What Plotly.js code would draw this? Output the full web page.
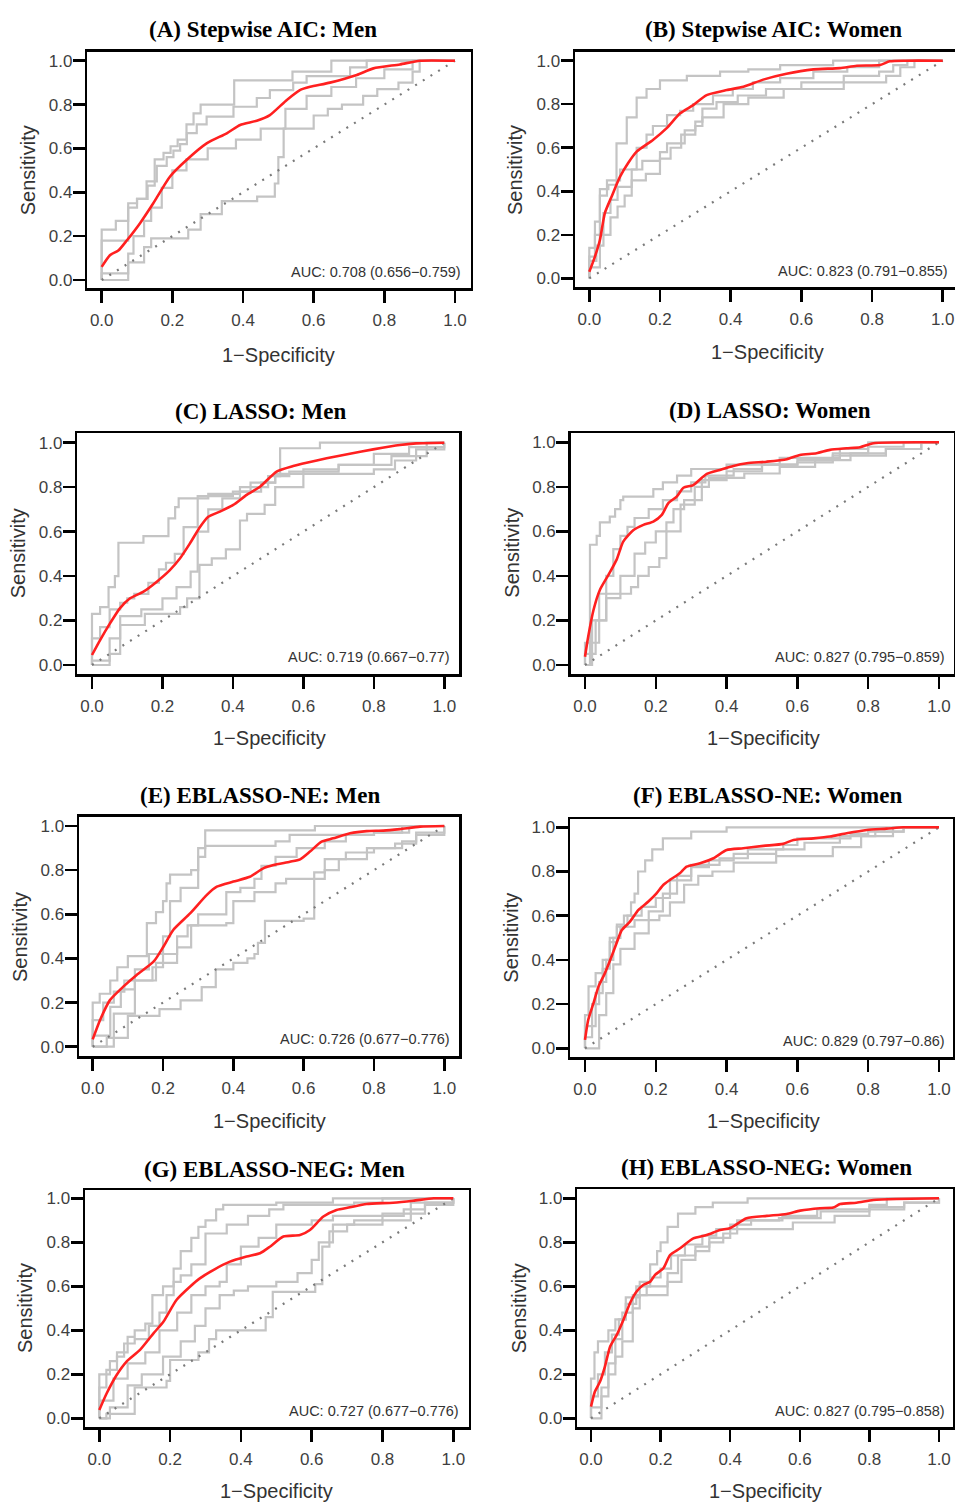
<!DOCTYPE html>
<html><head><meta charset="utf-8">
<script src="https://cdn.plot.ly/plotly-3.0.1.min.js"></script>
<style>html,body{margin:0;padding:0;background:#fff;}#chart{width:955px;height:1503px;}</style>
</head><body><div id="chart"></div>
<script>
// ---------- DATA ----------
const panelTitles = ["(A) Stepwise AIC: Men","(B) Stepwise AIC: Women","(C) LASSO: Men","(D) LASSO: Women",
  "(E) EBLASSO-NE: Men","(F) EBLASSO-NE: Women","(G) EBLASSO-NEG: Men","(H) EBLASSO-NEG: Women"];
const aucLabels = ["AUC: 0.708 (0.656\u22120.759)","AUC: 0.823 (0.791\u22120.855)","AUC: 0.719 (0.667\u22120.77)","AUC: 0.827 (0.795\u22120.859)",
  "AUC: 0.726 (0.677\u22120.776)","AUC: 0.829 (0.797\u22120.86)","AUC: 0.727 (0.677\u22120.776)","AUC: 0.827 (0.795\u22120.858)"];
const tickVals = [0,0.2,0.4,0.6,0.8,1.0];
const tickLabels = ["0.0","0.2","0.4","0.6","0.8","1.0"];
const xTitle = "1\u2212Specificity";
const yTitle = "Sensitivity";

// Panel A
const A_red_fpr = [0,0.024,0.047,0.071,0.108,0.146,0.193,0.24,0.297,0.354,0.392,0.439,0.476,0.524,0.561,0.59,0.646,0.722,0.769,0.844,0.901,1];
const A_red_tpr = [0.06,0.114,0.134,0.18,0.258,0.35,0.471,0.547,0.623,0.669,0.707,0.726,0.752,0.821,0.866,0.881,0.9,0.935,0.965,0.983,1,1];
const A_folds_fpr = [
 [0,0,0.04,0.075,0.1,0.13,0.15,0.175,0.195,0.215,0.24,0.26,0.28,0.375,0.54,0.65,1],
 [0,0,0.075,0.1,0.127,0.156,0.184,0.203,0.222,0.241,0.269,0.297,0.373,0.439,0.476,0.542,0.58,0.703,0.75,1],
 [0,0,0.075,0.09,0.12,0.14,0.17,0.2,0.24,0.3,0.38,0.45,0.52,0.58,0.65,0.72,0.8,0.88,1],
 [0,0.075,0.12,0.14,0.245,0.28,0.34,0.44,0.49,0.5,0.515,0.6,0.64,0.68,0.74,0.78,0.84,0.88,0.9,1]];
const A_folds_tpr = [
 [0,0.23,0.27,0.35,0.37,0.43,0.55,0.58,0.61,0.64,0.71,0.76,0.8,0.91,0.95,1,1],
 [0,0.18,0.33,0.37,0.45,0.52,0.56,0.59,0.62,0.67,0.71,0.745,0.79,0.83,0.866,0.9,0.93,0.97,1,1],
 [0,0.03,0.12,0.2,0.27,0.33,0.42,0.5,0.55,0.6,0.64,0.69,0.78,0.84,0.88,0.92,0.96,1,1],
 [0,0.08,0.15,0.19,0.23,0.3,0.36,0.38,0.44,0.56,0.69,0.75,0.78,0.8,0.84,0.87,0.9,0.95,1,1]];

// Panel B
const B_red_fpr = [0,0.016,0.03,0.044,0.063,0.087,0.11,0.134,0.153,0.18,0.219,0.257,0.294,0.332,0.389,0.436,0.492,0.558,0.634,0.709,0.757,0.823,0.85,0.898,1];
const B_red_tpr = [0.03,0.1,0.176,0.3,0.375,0.467,0.53,0.582,0.605,0.636,0.69,0.758,0.796,0.842,0.865,0.88,0.913,0.94,0.96,0.966,0.977,0.98,0.997,1,1];
const B_folds_fpr = [
 [0,0,0.016,0.03,0.054,0.077,0.106,0.134,0.162,0.2,0.276,0.37,0.45,0.54,0.69,1],
 [0,0,0.016,0.03,0.05,0.087,0.134,0.162,0.18,0.22,0.257,0.294,0.35,0.406,0.463,0.54,0.634,0.73,0.82,1],
 [0,0,0.02,0.04,0.06,0.08,0.12,0.15,0.2,0.22,0.27,0.3,0.32,0.36,0.42,0.5,0.6,0.72,0.82,0.86,0.9,1],
 [0,0,0.03,0.06,0.08,0.1,0.12,0.16,0.2,0.23,0.26,0.3,0.32,0.38,0.45,0.55,0.72,0.84,0.88,0.92,1]];
const B_folds_tpr = [
 [0,0.14,0.26,0.41,0.43,0.62,0.74,0.83,0.87,0.91,0.93,0.95,0.96,0.98,1,1],
 [0,0.1,0.2,0.38,0.45,0.5,0.6,0.66,0.7,0.75,0.77,0.8,0.84,0.87,0.9,0.92,0.95,0.97,1,1],
 [0,0.08,0.15,0.3,0.36,0.42,0.5,0.54,0.58,0.62,0.68,0.72,0.78,0.81,0.84,0.87,0.9,0.93,0.95,0.98,1,1],
 [0,0.05,0.2,0.28,0.33,0.38,0.45,0.48,0.55,0.6,0.66,0.7,0.74,0.8,0.83,0.87,0.9,0.93,0.97,1,1]];

// Panel C
const C_red_fpr = [0,0.023,0.051,0.079,0.108,0.146,0.184,0.221,0.25,0.278,0.307,0.33,0.363,0.401,0.439,0.477,0.524,0.571,0.609,0.666,0.732,0.798,0.874,0.92,1];
const C_red_tpr = [0.045,0.112,0.187,0.255,0.3,0.33,0.375,0.427,0.48,0.547,0.622,0.667,0.69,0.72,0.765,0.802,0.87,0.895,0.91,0.93,0.95,0.97,0.99,0.997,1];
const C_folds_fpr = [
 [0,0,0.023,0.047,0.065,0.075,0.146,0.217,0.236,0.246,0.33,0.42,0.5,0.534,0.647,1],
 [0,0,0.023,0.05,0.08,0.1,0.12,0.16,0.19,0.21,0.235,0.26,0.3,0.4,0.45,0.52,0.6,0.7,0.85,0.95,1],
 [0,0,0.05,0.08,0.14,0.2,0.24,0.28,0.3,0.33,0.37,0.42,0.48,0.52,0.56,0.7,0.8,0.9,1],
 [0,0.05,0.08,0.15,0.25,0.27,0.305,0.34,0.38,0.42,0.44,0.49,0.52,0.6,0.72,0.8,0.86,0.92,1]];
const C_folds_tpr = [
 [0,0.23,0.26,0.35,0.4,0.55,0.58,0.66,0.71,0.75,0.77,0.8,0.85,0.975,1,1],
 [0,0.12,0.17,0.25,0.28,0.3,0.32,0.37,0.43,0.46,0.5,0.62,0.76,0.78,0.82,0.86,0.88,0.9,0.94,1,1],
 [0,0.02,0.12,0.22,0.25,0.3,0.35,0.42,0.6,0.7,0.75,0.78,0.82,0.85,0.87,0.9,0.95,0.98,1],
 [0,0.05,0.18,0.23,0.26,0.3,0.45,0.48,0.52,0.65,0.68,0.72,0.8,0.86,0.86,0.88,0.92,0.97,1]];

// Panel D
const D_red_fpr = [0,0.009,0.024,0.042,0.066,0.089,0.108,0.137,0.165,0.193,0.217,0.235,0.259,0.278,0.306,0.344,0.381,0.419,0.457,0.513,0.57,0.607,0.654,0.692,0.739,0.777,0.815,1];
const D_red_tpr = [0.037,0.127,0.247,0.337,0.404,0.472,0.554,0.606,0.629,0.644,0.674,0.726,0.756,0.796,0.808,0.858,0.876,0.894,0.906,0.913,0.924,0.943,0.951,0.966,0.973,0.978,0.996,1];
const D_folds_fpr = [
 [0,0.014,0.014,0.033,0.042,0.07,0.085,0.1,0.108,0.193,0.22,0.26,0.3,0.4,0.55,0.72,0.8,1],
 [0,0,0.02,0.04,0.06,0.08,0.1,0.12,0.14,0.18,0.22,0.26,0.3,0.34,0.42,0.5,0.6,0.7,0.8,0.9,1],
 [0,0,0.03,0.06,0.1,0.14,0.17,0.2,0.23,0.25,0.28,0.33,0.4,0.5,0.6,0.7,0.85,0.95,1],
 [0,0.02,0.04,0.06,0.1,0.13,0.15,0.18,0.21,0.23,0.27,0.31,0.35,0.45,0.55,0.65,0.75,0.85,0.95,1]];
const D_folds_tpr = [
 [0,0.14,0.54,0.58,0.64,0.666,0.7,0.74,0.756,0.79,0.82,0.85,0.88,0.9,0.93,0.97,1,1],
 [0,0.1,0.2,0.32,0.4,0.52,0.58,0.62,0.66,0.7,0.74,0.78,0.82,0.85,0.88,0.9,0.92,0.95,0.98,1,1],
 [0,0.05,0.2,0.32,0.4,0.5,0.55,0.6,0.64,0.7,0.74,0.83,0.87,0.9,0.91,0.94,0.97,1,1],
 [0,0.1,0.2,0.3,0.32,0.35,0.4,0.44,0.48,0.6,0.72,0.8,0.84,0.86,0.89,0.92,0.95,0.97,1,1]];

// Panel E
const E_red_fpr = [0,0.021,0.049,0.087,0.125,0.173,0.201,0.229,0.277,0.324,0.353,0.4,0.447,0.485,0.514,0.561,0.59,0.618,0.651,0.684,0.732,0.779,0.827,0.874,0.931,1];
const E_red_tpr = [0.033,0.121,0.211,0.272,0.325,0.385,0.453,0.529,0.604,0.687,0.725,0.748,0.77,0.808,0.823,0.838,0.849,0.884,0.929,0.944,0.967,0.977,0.979,0.986,0.997,1];
const E_folds_fpr = [
 [0,0,0.02,0.05,0.07,0.1,0.154,0.18,0.2,0.21,0.22,0.28,0.3,0.32,0.632,1],
 [0,0,0.03,0.06,0.09,0.12,0.16,0.2,0.22,0.25,0.3,0.32,0.52,0.56,0.8,0.88,1],
 [0,0,0.05,0.08,0.12,0.17,0.2,0.24,0.27,0.3,0.38,0.42,0.46,0.48,0.52,0.58,0.66,0.72,0.8,0.9,1],
 [0,0.06,0.12,0.18,0.24,0.28,0.38,0.4,0.46,0.52,0.55,0.66,0.7,0.78,0.86,0.92,1],
 [0,0.04,0.1,0.19,0.25,0.31,0.35,0.4,0.44,0.46,0.47,0.49,0.6,0.63,0.66,0.72,0.8,0.88,0.92,1]];
const E_folds_tpr = [
 [0,0.2,0.24,0.3,0.36,0.41,0.56,0.61,0.66,0.74,0.78,0.8,0.9,0.98,1,1],
 [0,0.12,0.2,0.25,0.3,0.35,0.42,0.5,0.66,0.72,0.86,0.91,0.93,0.96,0.97,1,1],
 [0,0.05,0.18,0.26,0.3,0.36,0.42,0.5,0.55,0.6,0.7,0.72,0.76,0.82,0.86,0.9,0.93,0.96,0.97,1,1],
 [0,0.15,0.3,0.38,0.45,0.55,0.56,0.66,0.7,0.74,0.76,0.8,0.85,0.9,0.92,0.96,1],
 [0,0.04,0.14,0.17,0.21,0.27,0.35,0.38,0.4,0.42,0.47,0.57,0.58,0.79,0.85,0.88,0.9,0.93,0.97,1]];

// Panel F
const F_red_fpr = [0,0.009,0.024,0.038,0.056,0.075,0.089,0.104,0.127,0.151,0.179,0.202,0.221,0.24,0.268,0.287,0.325,0.363,0.4,0.447,0.504,0.56,0.589,0.645,0.692,0.739,0.796,0.852,0.899,1];
const F_red_tpr = [0.038,0.128,0.204,0.279,0.339,0.415,0.475,0.535,0.573,0.626,0.664,0.701,0.739,0.762,0.792,0.822,0.837,0.86,0.897,0.905,0.916,0.925,0.943,0.95,0.958,0.973,0.988,0.994,1,1];
const F_folds_fpr = [
 [0,0,0.01,0.03,0.05,0.07,0.09,0.11,0.13,0.14,0.15,0.17,0.19,0.22,0.3,0.4,1],
 [0,0,0.03,0.05,0.07,0.09,0.12,0.16,0.2,0.24,0.3,0.38,0.46,0.56,0.6,0.75,0.8,0.9,1],
 [0,0,0.02,0.04,0.06,0.08,0.1,0.14,0.18,0.22,0.26,0.3,0.35,0.42,0.54,0.62,0.72,0.82,0.9,1],
 [0,0.04,0.06,0.08,0.1,0.14,0.18,0.21,0.24,0.28,0.32,0.36,0.42,0.54,0.7,0.78,0.87,1]];
const F_folds_tpr = [
 [0,0.15,0.28,0.34,0.4,0.5,0.56,0.6,0.66,0.7,0.8,0.85,0.9,0.95,0.98,1,1],
 [0,0.1,0.25,0.36,0.48,0.55,0.6,0.64,0.68,0.76,0.83,0.86,0.9,0.92,0.95,0.97,0.98,1,1],
 [0,0.05,0.2,0.3,0.4,0.5,0.55,0.58,0.62,0.7,0.78,0.82,0.85,0.88,0.9,0.93,0.96,0.98,1,1],
 [0,0.15,0.25,0.38,0.45,0.52,0.58,0.6,0.66,0.74,0.78,0.8,0.84,0.87,0.91,0.96,1,1]];

// Panel G
const G_red_fpr = [0,0.021,0.049,0.077,0.115,0.153,0.181,0.218,0.256,0.284,0.322,0.369,0.416,0.454,0.482,0.52,0.567,0.595,0.633,0.67,0.708,0.755,0.83,0.887,0.944,1];
const G_red_tpr = [0.038,0.114,0.197,0.258,0.311,0.386,0.439,0.538,0.598,0.636,0.674,0.712,0.735,0.75,0.78,0.826,0.833,0.856,0.917,0.947,0.959,0.974,0.98,0.989,1,1];
const G_folds_fpr = [
 [0,0,0.03,0.05,0.08,0.1,0.13,0.15,0.18,0.21,0.23,0.26,0.28,0.3,0.33,0.35,0.5,0.66,1],
 [0,0,0.02,0.05,0.07,0.1,0.14,0.17,0.19,0.21,0.23,0.26,0.3,0.36,0.42,0.48,0.52,0.72,0.8,1],
 [0,0,0.04,0.08,0.13,0.17,0.22,0.26,0.3,0.34,0.36,0.4,0.45,0.5,0.6,0.66,0.8,0.88,1],
 [0,0.03,0.08,0.12,0.18,0.23,0.27,0.3,0.34,0.38,0.42,0.5,0.56,0.6,0.62,0.66,0.72,0.8,0.86,0.92,1],
 [0,0.02,0.1,0.19,0.2,0.28,0.31,0.33,0.47,0.49,0.61,0.63,0.65,0.7,0.8,0.88,0.92,1]];
const G_folds_tpr = [
 [0,0.2,0.26,0.3,0.37,0.4,0.43,0.56,0.6,0.68,0.76,0.82,0.87,0.9,0.95,0.97,0.98,1,1],
 [0,0.14,0.22,0.28,0.34,0.36,0.42,0.48,0.56,0.62,0.65,0.7,0.84,0.88,0.92,0.95,0.97,0.98,1,1],
 [0,0.08,0.18,0.25,0.3,0.4,0.48,0.56,0.6,0.62,0.7,0.78,0.82,0.88,0.9,0.92,0.93,0.98,1],
 [0,0.05,0.15,0.2,0.28,0.35,0.42,0.5,0.56,0.58,0.6,0.62,0.66,0.72,0.8,0.88,0.9,0.92,0.95,0.98,1],
 [0,0.02,0.14,0.17,0.265,0.3,0.36,0.4,0.46,0.575,0.61,0.78,0.85,0.88,0.9,0.93,0.97,1]];

// Panel H
const H_red_fpr = [0,0.011,0.026,0.04,0.055,0.074,0.093,0.112,0.131,0.15,0.17,0.184,0.208,0.227,0.256,0.294,0.332,0.371,0.399,0.447,0.505,0.562,0.601,0.658,0.696,0.716,0.763,0.811,0.878,1];
const H_red_tpr = [0.053,0.121,0.167,0.235,0.326,0.379,0.447,0.523,0.576,0.606,0.621,0.652,0.682,0.742,0.773,0.818,0.833,0.856,0.864,0.909,0.92,0.929,0.944,0.955,0.958,0.974,0.98,0.992,0.997,1];
const H_folds_fpr = [
 [0,0,0.01,0.02,0.05,0.07,0.1,0.14,0.17,0.19,0.2,0.22,0.25,0.3,0.35,0.45,1],
 [0,0,0.02,0.04,0.06,0.08,0.1,0.13,0.17,0.2,0.23,0.27,0.32,0.36,0.42,0.55,0.65,0.8,0.85,1],
 [0,0,0.03,0.05,0.07,0.09,0.12,0.16,0.22,0.25,0.3,0.34,0.4,0.46,0.54,0.66,0.8,0.9,1],
 [0,0.03,0.05,0.07,0.09,0.12,0.14,0.22,0.26,0.3,0.34,0.38,0.42,0.58,0.7,0.8,0.9,1]];
const H_folds_tpr = [
 [0,0.18,0.3,0.35,0.4,0.45,0.55,0.62,0.7,0.76,0.8,0.87,0.93,0.96,0.98,1,1],
 [0,0.1,0.2,0.3,0.38,0.45,0.52,0.6,0.64,0.68,0.74,0.79,0.83,0.86,0.9,0.92,0.95,0.97,1,1],
 [0,0.05,0.14,0.25,0.36,0.48,0.56,0.6,0.66,0.74,0.78,0.82,0.88,0.9,0.91,0.94,0.96,0.98,1],
 [0,0.1,0.2,0.28,0.35,0.5,0.56,0.62,0.72,0.76,0.8,0.84,0.86,0.89,0.92,0.95,0.98,1]];

// ---------- LAYOUT GEOMETRY (pixels) ----------
const W = 955, H = 1503;
// [boxLeft, boxRight, boxTop, boxBottom, px(x=0), px(x=1), py(y=1), py(y=0)]
const boxes = [
 [87.3,470.7,51.7,288.3,101.7,455,60.7,280],
 [575,955,51.7,287.3,589.3,942.7,60.7,278.3],
 [77.3,459,433.3,674,92,444.3,442.7,665],
 [570.7,954,433.3,674,585,939,442.3,665],
 [79,459,816.7,1056,92.7,444.3,826,1046.7],
 [570,953.3,819.3,1057.3,585,939,827.3,1048.3],
 [85,468.5,1190,1427.3,99.3,453.3,1198.3,1418.3],
 [577.3,953.3,1189.3,1427.3,591,939,1198.3,1418.3]];
const titlePos = [[262.5,30],[773.8,30],[260.5,411],[769.5,410],[260,795],[767.7,795],[274,1169],[766.3,1167]];
const xTitlePos = [[278.8,355],[767,352],[269,738],[763,738],[269.7,1121],[763,1121],[276.7,1491],[765.8,1491]];
const yTitlePos = [[28.3,170],[515,170],[18.3,553],[511.7,553],[20,937],[510.7,938],[25,1308],[519.3,1308]];

const panelData = [
 [A_red_fpr,A_red_tpr,A_folds_fpr,A_folds_tpr],
 [B_red_fpr,B_red_tpr,B_folds_fpr,B_folds_tpr],
 [C_red_fpr,C_red_tpr,C_folds_fpr,C_folds_tpr],
 [D_red_fpr,D_red_tpr,D_folds_fpr,D_folds_tpr],
 [E_red_fpr,E_red_tpr,E_folds_fpr,E_folds_tpr],
 [F_red_fpr,F_red_tpr,F_folds_fpr,F_folds_tpr],
 [G_red_fpr,G_red_tpr,G_folds_fpr,G_folds_tpr],
 [H_red_fpr,H_red_tpr,H_folds_fpr,H_folds_tpr]];

const traces = [];
const layout = {
  width: W, height: H, margin:{l:0,r:0,t:0,b:0},
  paper_bgcolor:'#fff', plot_bgcolor:'#fff', showlegend:false, annotations:[]
};
const tickFont = {family:'Liberation Sans, Arial, sans-serif', size:17, color:'#3f3f3f'};
const labFont = {family:'Liberation Sans, Arial, sans-serif', size:20, color:'#333'};

panelData.forEach((pd, i) => {
  const n = i === 0 ? '' : String(i+1);
  const xa = 'x'+n, ya = 'y'+n;
  const [L,R,T,B,px0,px1,py1,py0] = boxes[i];
  const Rc = Math.min(R, W);
  const sx = px1 - px0, sy = py0 - py1;
  const common = {
    showline:true, linecolor:'#000', linewidth:2.5, mirror:true,
    ticks:'outside', ticklen:12, tickwidth:2.5, tickcolor:'#000',
    tickmode:'array', tickvals:tickVals, ticktext:tickLabels, tickfont:tickFont,
    showgrid:false, zeroline:false, fixedrange:true
  };
  layout['xaxis'+n] = Object.assign({}, common, {
    domain:[L/W, Rc/W], range:[(L-px0)/sx, (Rc-px0)/sx], anchor:ya, ticklabelstandoff:3
  });
  layout['yaxis'+n] = Object.assign({}, common, {
    domain:[1-B/H, 1-T/H], range:[(py0-B)/sy, (py0-T)/sy], anchor:xa, ticklabelstandoff:-3
  });
  const [rf, rt, ff, ft] = pd;
  ff.forEach((fx, k) => {
    traces.push({x:fx, y:ft[k], xaxis:xa, yaxis:ya, type:'scatter', mode:'lines',
      line:{color:'#c4c4c4', width:2.2, shape:'hv'}, hoverinfo:'skip'});
  });
  traces.push({x:[0,1], y:[0,1], xaxis:xa, yaxis:ya, type:'scatter', mode:'lines',
    line:{color:'#7a7a7a', width:2.2, dash:'2px,7px'}, hoverinfo:'skip'});
  traces.push({x:rf, y:rt, xaxis:xa, yaxis:ya, type:'scatter', mode:'lines',
    line:{color:'#ff2020', width:2.6, shape:'spline', smoothing:0.6}, hoverinfo:'skip'});

  layout.annotations.push({text:panelTitles[i], xref:'paper', yref:'paper',
    x:titlePos[i][0]/W, y:1-titlePos[i][1]/H, xanchor:'center', yanchor:'middle', showarrow:false,
    font:{family:'Liberation Serif, Times New Roman, serif', size:23, color:'#000', weight:700}});
  layout.annotations.push({text:xTitle, xref:'paper', yref:'paper',
    x:xTitlePos[i][0]/W, y:1-xTitlePos[i][1]/H, xanchor:'center', yanchor:'middle', showarrow:false, font:labFont});
  layout.annotations.push({text:yTitle, xref:'paper', yref:'paper', textangle:-90,
    x:yTitlePos[i][0]/W, y:1-yTitlePos[i][1]/H, xanchor:'center', yanchor:'middle', showarrow:false, font:labFont});
  layout.annotations.push({text:aucLabels[i], xref:xa, yref:ya, x:1.022, y:0.035,
    xanchor:'right', yanchor:'middle', showarrow:false,
    font:{family:'Liberation Sans, Arial, sans-serif', size:14.5, color:'#333'}});
});

Plotly.newPlot('chart', traces, layout, {staticPlot:true, displayModeBar:false});
</script>
</body></html>
